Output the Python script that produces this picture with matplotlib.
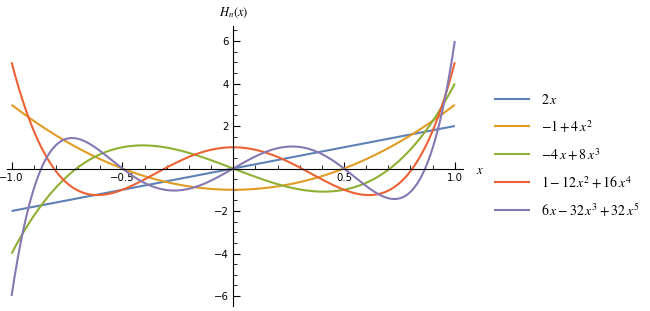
import numpy as np
import matplotlib
matplotlib.use("Agg")
import matplotlib.pyplot as plt
from matplotlib.ticker import MultipleLocator, FixedLocator

# Polynomial coefficients (highest power first)
coef_1 = [2, 0]
coef_2 = [4, 0, -1]
coef_3 = [8, 0, -4, 0]
coef_4 = [16, 0, -12, 0, 1]
coef_5 = [32, 0, -32, 0, 6, 0]
coefs = [coef_1, coef_2, coef_3, coef_4, coef_5]
labels = [r"$2\,x$", r"$-1+4\,x^2$", r"$-4\,x+8\,x^3$",
          r"$1-12\,x^2+16\,x^4$", r"$6\,x-32\,x^3+32\,x^5$"]
colors = ["#5E81B5", "#E19C24", "#8FB032", "#EB6235", "#8778B3"]
x_ticks = [-1.0, -0.5, 0.5, 1.0]
x_ticklabels = ["\u22121.0", "\u22120.5", "0.5", "1.0"]
y_ticks = [-6, -4, -2, 2, 4, 6]
y_ticklabels = ["\u22126", "\u22124", "\u22122", "2", "4", "6"]

plt.rcParams['mathtext.fontset'] = 'stix'

fig = plt.figure(figsize=(6.5, 3.11), dpi=100)
ax = fig.add_axes([0.011, 0.016, 0.701, 0.90])

x = np.linspace(-1, 1, 600)
for c, lab, col in zip(coefs, labels, colors):
    ax.plot(x, np.polyval(c, x), color=col, lw=1.5, label=lab, solid_capstyle='butt')

ax.set_xlim(-1.02, 1.036)
ax.set_ylim(-6.47, 6.7)

for s in ['top', 'right']:
    ax.spines[s].set_visible(False)
ax.spines['left'].set_position(('data', 0))
ax.spines['bottom'].set_position(('data', 0))
ax.spines['left'].set_linewidth(0.8)
ax.spines['bottom'].set_linewidth(0.8)

ax.xaxis.set_major_locator(FixedLocator(x_ticks))
ax.set_xticklabels(x_ticklabels)
ax.xaxis.set_minor_locator(MultipleLocator(0.1))
ax.yaxis.set_major_locator(FixedLocator(y_ticks))
ax.set_yticklabels(y_ticklabels)
ax.yaxis.set_minor_locator(MultipleLocator(0.5))

ax.tick_params(axis='x', which='major', direction='in', length=5, width=0.8, labelsize=7.3, pad=3)
ax.tick_params(axis='x', which='minor', direction='in', length=3, width=0.6)
ax.tick_params(axis='y', which='major', direction='in', length=5, width=0.8, labelsize=7.3, pad=3)
ax.tick_params(axis='y', which='minor', direction='in', length=3, width=0.6)
ax.xaxis.set_ticks_position('bottom')
ax.yaxis.set_ticks_position('left')

fig.text(476 / 650, 1 - 170 / 311, r"$x$", fontsize=9, ha='left', va='center')
fig.text(219 / 650, 1 - 13 / 311, r"$H_n(x)$", fontsize=9, ha='left', va='center')

fig.legend(loc='upper left', bbox_to_anchor=(481 / 650, 1 - 80 / 311),
           frameon=False, fontsize=10, handlelength=2.6, labelspacing=0.85,
           handletextpad=0.8)

fig.savefig("out.png", dpi=100)
